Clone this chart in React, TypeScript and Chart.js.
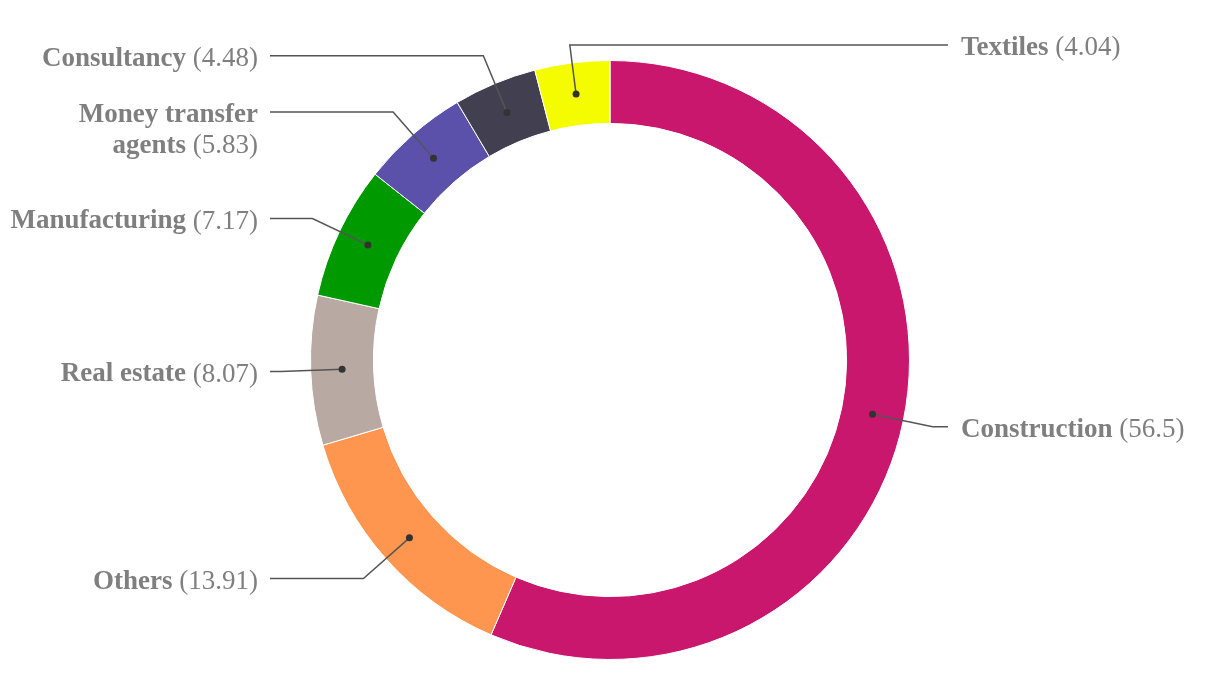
import React, { useEffect, useRef } from "react";
import { Chart, registerables } from "chart.js";

Chart.register(...registerables);

const categories = [
  "Construction",
  "Others",
  "Real estate",
  "Manufacturing",
  "Money transfer agents",
  "Consultancy",
  "Textiles",
];
const values = [56.5, 13.91, 8.07, 7.17, 5.83, 4.48, 4.04];
const valueLabels = ["56.5", "13.91", "8.07", "7.17", "5.83", "4.48", "4.04"];
const colors = ["#c8176c", "#ff9650", "#b8aaa2", "#009900", "#5b51aa", "#424050", "#f5fc00"];

const FONT_FAMILY = '"Liberation Serif", "Times New Roman", serif';
const FONT_SIZE = 27;
const LINE_H = 31;
const TEXT_COLOR = "#7f7f7f";

const leaderPlugin = {
  id: "leaderLabels",
  afterDraw(chart: any) {
    const ctx = chart.ctx as CanvasRenderingContext2D;
    const meta = chart.getDatasetMeta(0);
    const area = chart.chartArea;
    const cx = (area.left + area.right) / 2;
    const leftEnd = cx - 340;
    const rightEnd = cx + 338;
    const minY = area.top - 15;
    meta.data.forEach((arc: any, i: number) => {
      const p = arc.getProps(["startAngle", "endAngle", "innerRadius", "outerRadius", "x", "y"], true);
      const mid = (p.startAngle + p.endAngle) / 2;
      const c = Math.cos(mid);
      const s = Math.sin(mid);
      const rDot = (p.innerRadius + p.outerRadius) / 2;
      const dx = p.x + rDot * c;
      const dy = p.y + rDot * s;
      let rEl = p.outerRadius + 30;
      let ex = p.x + rEl * c;
      let ey = p.y + rEl * s;
      if (ey < minY && s < 0) {
        rEl = (p.y - minY) / -s;
        ex = p.x + rEl * c;
        ey = minY;
      }
      const right = c >= 0 || (Math.abs(c) < 0.15 && s < 0);
      const endX = right ? rightEnd : leftEnd;

      ctx.save();
      ctx.strokeStyle = "#555555";
      ctx.lineWidth = 1.5;
      ctx.beginPath();
      ctx.moveTo(dx, dy);
      ctx.lineTo(ex, ey);
      ctx.lineTo(endX, ey);
      ctx.stroke();
      ctx.fillStyle = "#333333";
      ctx.beginPath();
      ctx.arc(dx, dy, 3.5, 0, Math.PI * 2);
      ctx.fill();

      const bold = `bold ${FONT_SIZE}px ${FONT_FAMILY}`;
      const norm = `${FONT_SIZE}px ${FONT_FAMILY}`;
      const words = categories[i].split(" ");
      const valText = `(${valueLabels[i]})`;
      const tokens = words.map((w) => ({ t: w, b: true })).concat([{ t: valText, b: false }]);
      ctx.font = bold;
      const spaceW = ctx.measureText(" ").width;
      const widthOf = (tk: { t: string; b: boolean }) => {
        ctx.font = tk.b ? bold : norm;
        return ctx.measureText(tk.t).width;
      };
      const maxW = 253;
      const lines: { t: string; b: boolean }[][] = [];
      let cur: { t: string; b: boolean }[] = [];
      let curW = 0;
      tokens.forEach((tk) => {
        const w = widthOf(tk);
        const add = cur.length ? spaceW + w : w;
        if (cur.length && curW + add > maxW) {
          lines.push(cur);
          cur = [tk];
          curW = w;
        } else {
          cur.push(tk);
          curW += add;
        }
      });
      if (cur.length) lines.push(cur);
      // keep the value with its last word on the final line
      if (lines.length > 1) {
        const last = lines[lines.length - 1];
        const prev = lines[lines.length - 2];
        if (last.length === 1 && !last[0].b && prev.length > 1) {
          last.unshift(prev.pop() as { t: string; b: boolean });
        }
      }

      ctx.fillStyle = TEXT_COLOR;
      ctx.textBaseline = "middle";
      ctx.textAlign = "left";
      lines.forEach((ln, li) => {
        const lw = ln.reduce((acc, tk, k) => acc + widthOf(tk) + (k ? spaceW : 0), 0);
        let x = right ? endX + 13 : endX - 12 - lw;
        const y = ey + 3 + li * LINE_H;
        ln.forEach((tk, k) => {
          if (k) x += spaceW;
          ctx.font = tk.b ? bold : norm;
          ctx.fillText(tk.t, x, y);
          x += ctx.measureText(tk.t).width;
        });
      });
      ctx.restore();
    });
  },
};

export default function App() {
  const ref = useRef<HTMLCanvasElement | null>(null);
  useEffect(() => {
    if (!ref.current) return;
    const chart = new Chart(ref.current, {
      type: "doughnut",
      data: {
        labels: categories,
        datasets: [
          {
            data: values,
            backgroundColor: colors,
            borderColor: "#ffffff",
            borderWidth: 1,
          },
        ],
      },
      options: {
        animation: false,
        responsive: false,
        cutout: "79%",
        layout: { padding: { top: 60, bottom: 40 } },
        plugins: {
          legend: { display: false },
          tooltip: { enabled: false },
        },
      },
      plugins: [leaderPlugin],
    });
    return () => chart.destroy();
  }, []);
  return (
    <div style={{ position: "fixed", left: 0, top: 0, width: 1220, height: 700, background: "#fff" }}>
      <canvas ref={ref} width={1220} height={700} style={{ width: 1220, height: 700 }} />
    </div>
  );
}
